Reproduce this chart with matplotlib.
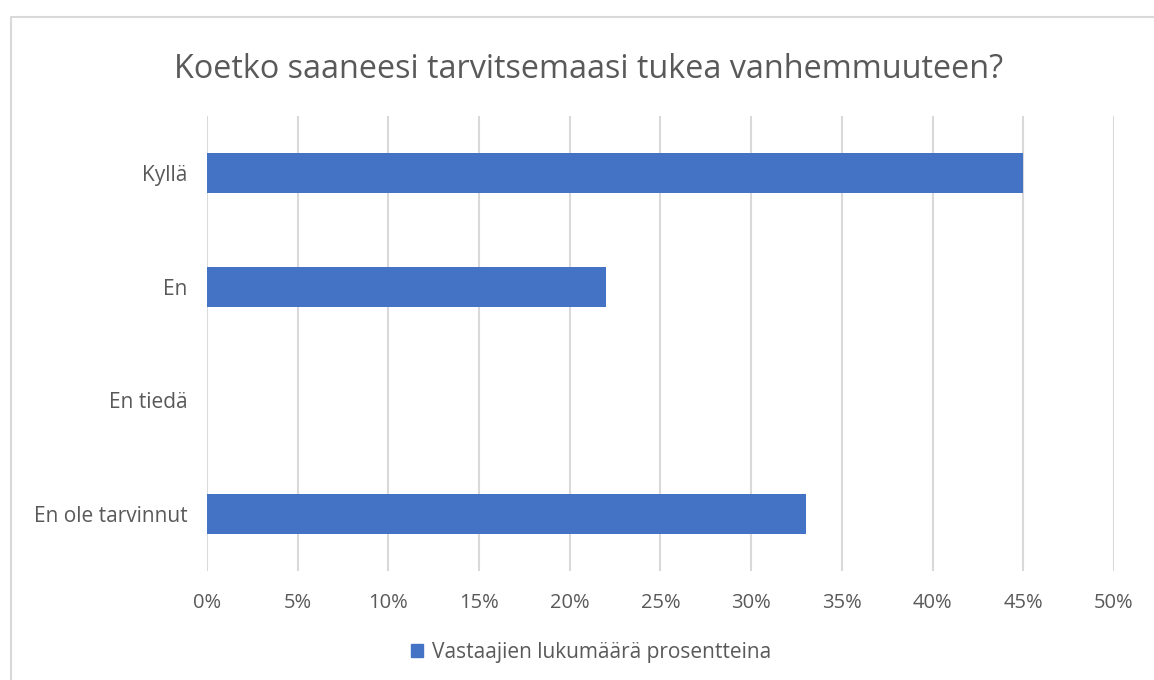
import matplotlib.pyplot as plt
from matplotlib.lines import Line2D
from matplotlib.patches import Patch
from matplotlib.ticker import FuncFormatter

# ── Data ───────────────────────────────────────────────────────────────────────
categories = ["Kyllä", "En", "En tiedä", "En ole tarvinnut"]
values = [45, 22, 0, 33]          # % of respondents
series_name = "Vastaajien lukumäärä prosentteina"
title = "Koetko saaneesi tarvitsemaasi tukea vanhemmuuteen?"

BAR = "#4472C4"
GRID = "#D9D9D9"
TEXT = "#595959"

plt.rcParams.update({
    "font.family": ["Open Sans", "DejaVu Sans"],
    "font.size": 15,
})

fig = plt.figure(figsize=(11.54, 6.8), dpi=100)
ax = fig.add_axes([0.1794, 0.1603, 0.7859, 0.6691])

ypos = list(range(len(categories)))
ax.barh(ypos, values, height=0.35, color=BAR, zorder=3)
ax.set_yticks(ypos)
ax.set_yticklabels(categories, color=TEXT, fontsize=15)
ax.set_ylim(len(categories) - 0.5, -0.5)

ax.set_xlim(0, 50)
ax.set_xticks(range(0, 51, 5))
ax.xaxis.set_major_formatter(FuncFormatter(lambda v, _: f"{v:.0f}%"))
ax.tick_params(axis="x", colors=TEXT, length=0, pad=16, labelsize=14.5)
ax.tick_params(axis="y", colors=TEXT, length=0, pad=14)
ax.grid(axis="x", color=GRID, linewidth=1.5, zorder=0)
for s in ax.spines.values():
    s.set_visible(False)

fig.text(0.51, 0.898, title, ha="center", va="center", fontsize=23.3, color=TEXT)

fig.legend(handles=[Patch(color=BAR, label=series_name)],
           loc="center", bbox_to_anchor=(0.512, 0.041), frameon=False,
           handlelength=0.6, handleheight=0.6, handletextpad=0.4,
           labelcolor=TEXT, fontsize=15)

# outer chart border (cropped on right and bottom)
fig.add_artist(Line2D([11 / 1154, 11 / 1154, 1.0], [0.0, 1 - 17 / 680, 1 - 17 / 680],
                      transform=fig.transFigure, color=GRID, linewidth=1.5))

fig.savefig("out.png", dpi=100)
